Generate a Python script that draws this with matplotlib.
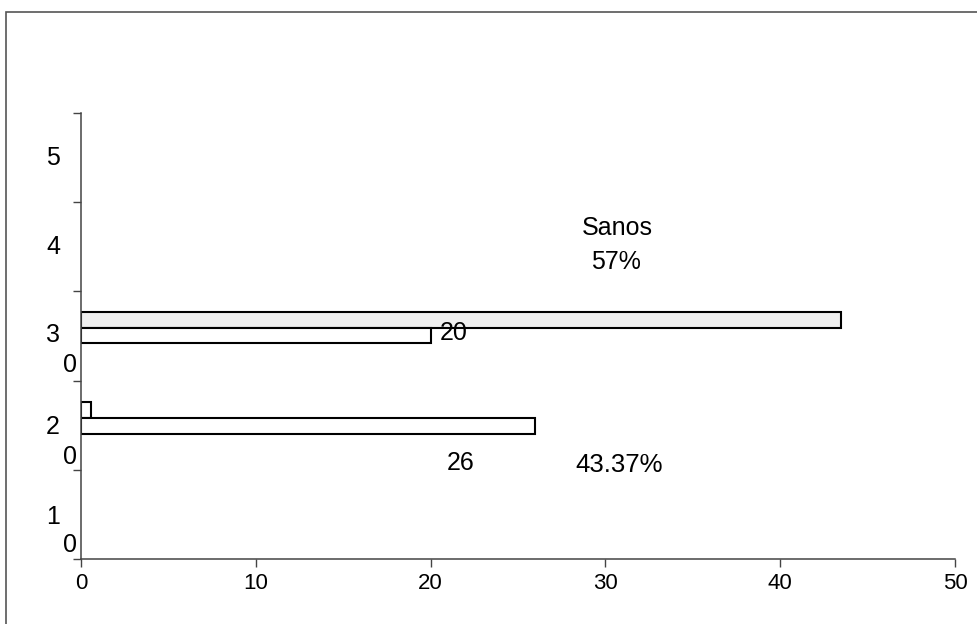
import matplotlib.pyplot as plt
from matplotlib.patches import Rectangle
from matplotlib.transforms import blended_transform_factory

plt.rcParams['font.family'] = ['Liberation Sans', 'DejaVu Sans']

# two groups of bars, upper bar of each group first
group_centers = [2.595, 1.58]
upper_vals = [43.5, 0.6]
lower_vals = [20, 26]
bar_h = 0.175

x_ticks = [0, 10, 20, 30, 40, 50]
y_ticks = [0, 1, 2, 3, 4, 5]

# the y labels are printed as broken digits down the axis
ylab_text = ['5', '4', '3', '0', '2', '0', '1', '0']
ylab_pos = [4.50, 3.50, 2.51, 2.17, 1.48, 1.14, 0.47, 0.16]
ylab_col = [-0.032, -0.032, -0.032, -0.013, -0.032, -0.013, -0.032, -0.013]

fig = plt.figure(figsize=(9.77, 6.24), dpi=100)
ax = fig.add_axes([0.0829, 0.1042, 0.8946, 0.7147])

upper_y = [c + bar_h / 2 for c in group_centers]
lower_y = [c - bar_h / 2 for c in group_centers]
ax.barh(upper_y, upper_vals, height=bar_h, color=['#efefef', 'white'],
        edgecolor='black', linewidth=1.5)
ax.barh(lower_y, lower_vals, height=bar_h, color='white',
        edgecolor='black', linewidth=1.5)

ax.set_xlim(0, 50)
ax.set_ylim(0, 5)
ax.set_xticks(x_ticks)
ax.set_xticklabels([str(t) for t in x_ticks])
ax.set_yticks(y_ticks)
ax.set_yticklabels([])
ax.tick_params(axis='x', length=6, width=1, pad=4, labelsize=16, color='#444444')
ax.tick_params(axis='y', length=6, width=1, color='#444444')
for side in ['top', 'right']:
    ax.spines[side].set_visible(False)
for side in ['left', 'bottom']:
    ax.spines[side].set_color('#444444')
    ax.spines[side].set_linewidth(1.1)

trans = blended_transform_factory(ax.transAxes, ax.transData)
for txt, yp, xc in zip(ylab_text, ylab_pos, ylab_col):
    ax.text(xc, yp, txt, transform=trans, ha='center', va='center',
            fontsize=18, clip_on=False)

# value and share labels
ax.text(lower_vals[0] + 0.5, lower_y[0] + 0.03, str(lower_vals[0]),
        ha='left', va='center', fontsize=18)
ax.text(21.7, 1.08, str(lower_vals[1]), ha='center', va='center', fontsize=18)
ax.text(30.8, 1.05, '43.37%', ha='center', va='center', fontsize=18.5)
ax.text(30.7, 3.71, 'Sanos', ha='center', va='center', fontsize=18)
ax.text(30.6, 3.33, '57%', ha='center', va='center', fontsize=18)

# outer border of the chart area
fig.patches.append(Rectangle((0.006, -0.02), 1.02, 1.001, transform=fig.transFigure,
                             fill=False, edgecolor='#555555', linewidth=1.2))

fig.savefig('out.png', dpi=100, facecolor='white')
